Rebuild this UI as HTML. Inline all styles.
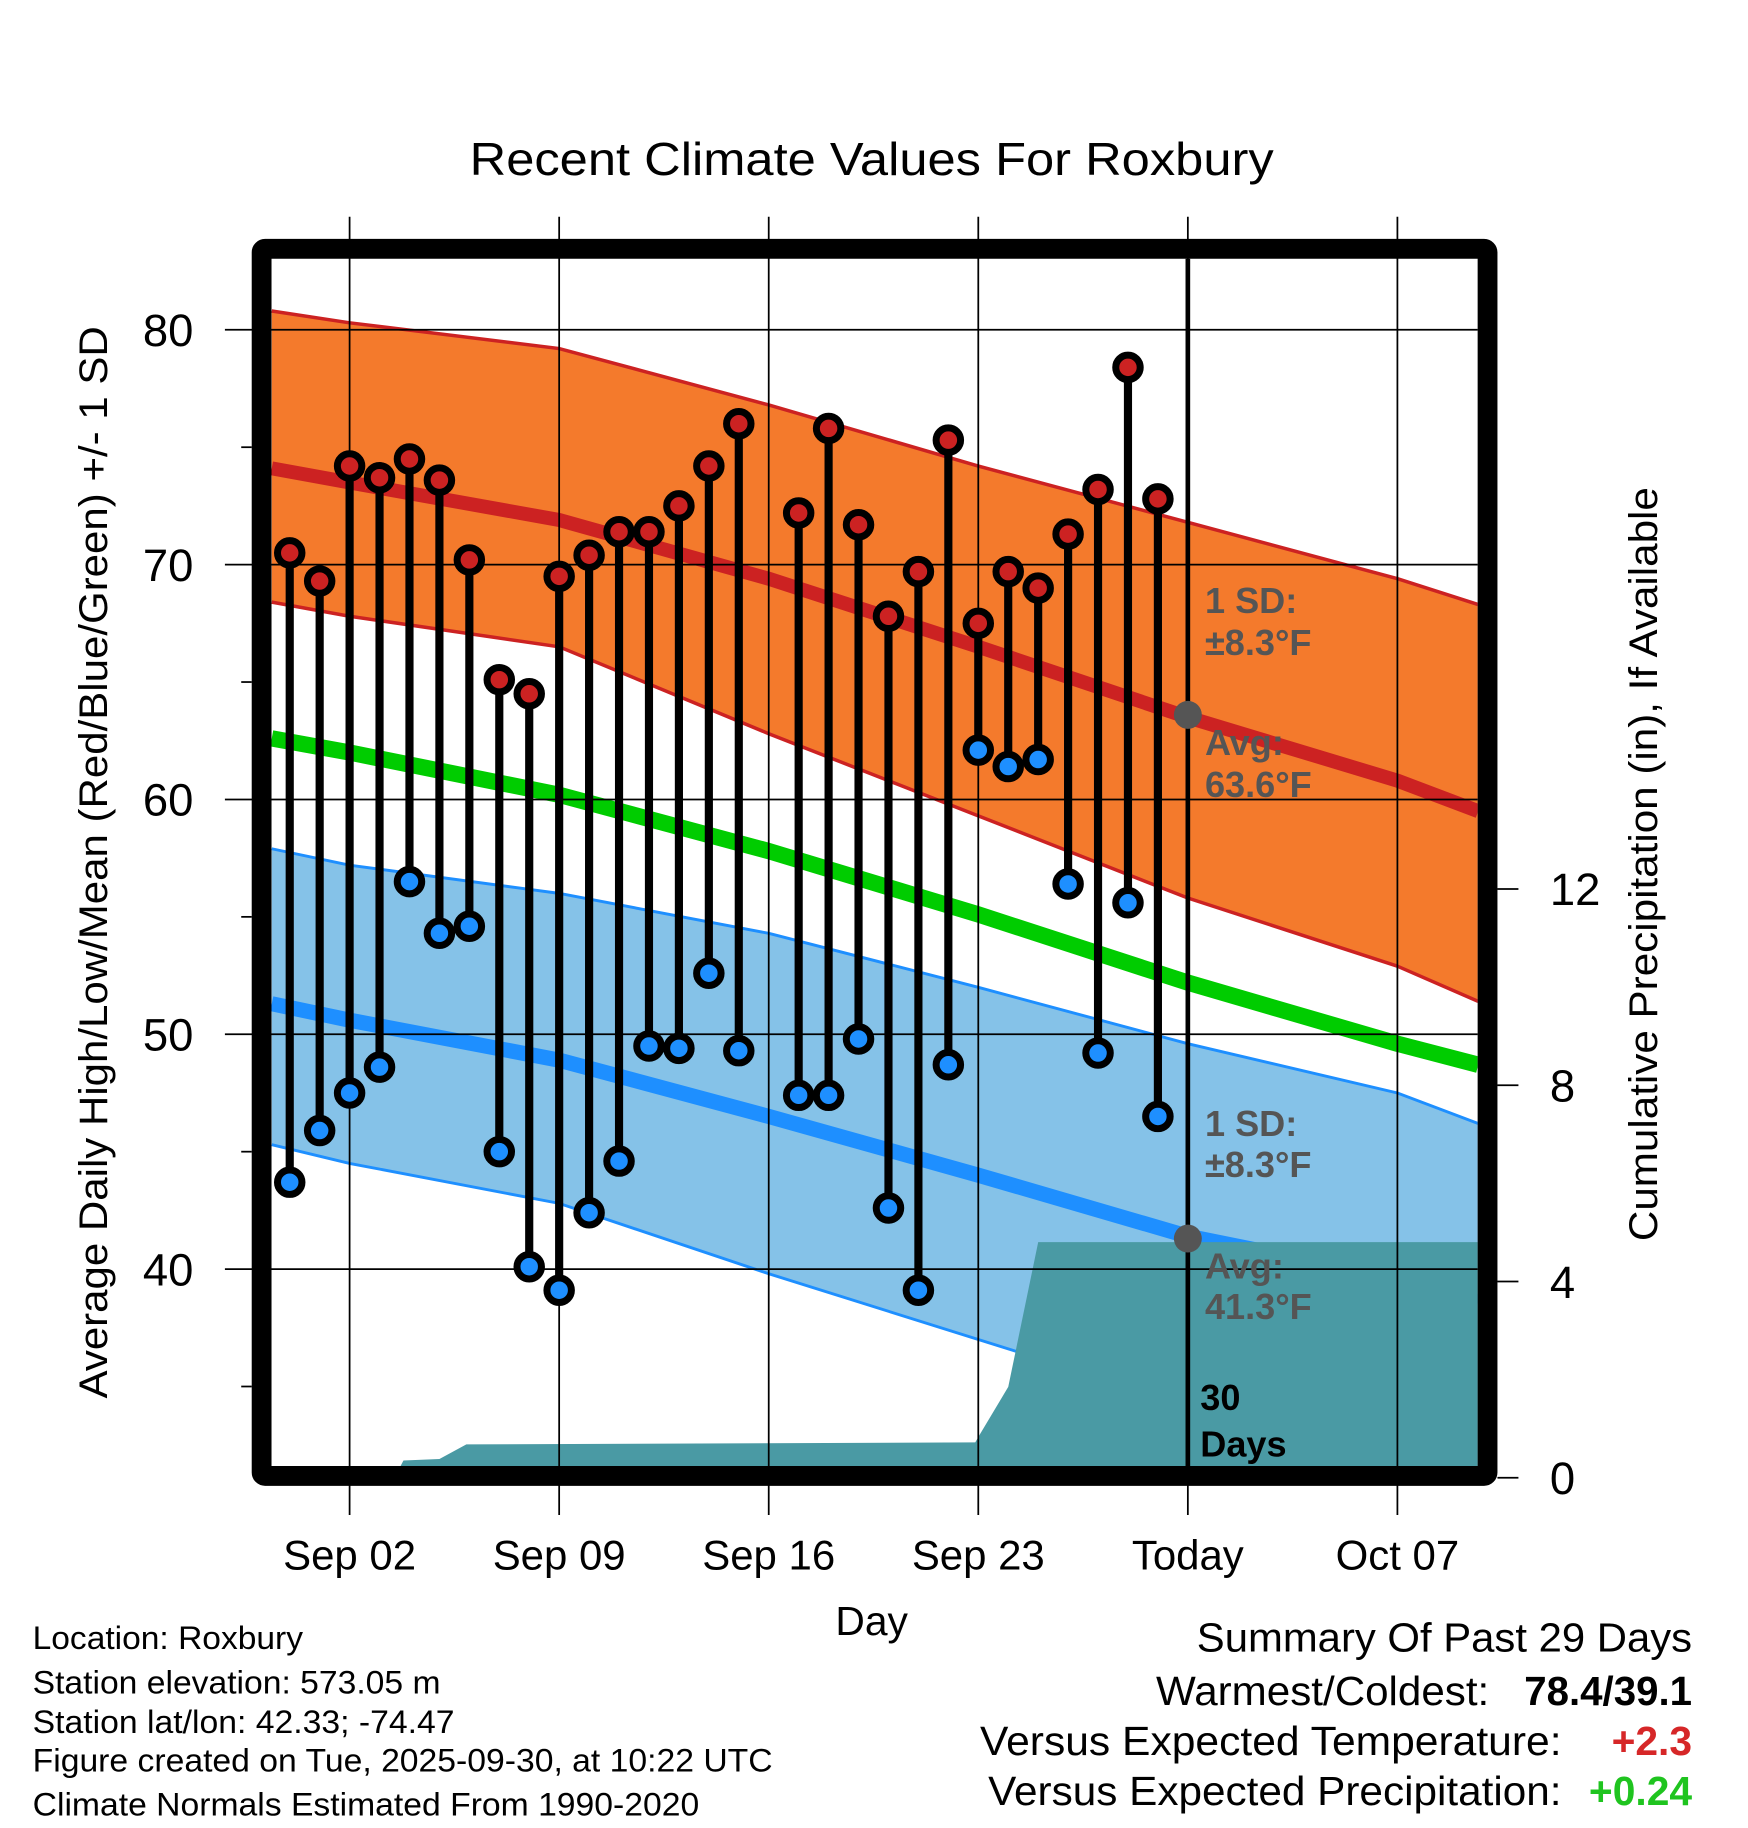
<!DOCTYPE html>
<html><head><meta charset="utf-8"><style>
html,body{margin:0;padding:0;background:#fff;}
svg{display:block;font-family:"Liberation Sans",sans-serif;}
</style></head><body>
<svg id="chart" width="1748" height="1828" viewBox="0 0 1500 1568.6" preserveAspectRatio="none">
<text x="403" y="150" font-size="40" textLength="690" lengthAdjust="spacingAndGlyphs">Recent Climate Values For Roxbury</text>
<g id="plot"></g>
<text transform="translate(92,1200) rotate(-90)" font-size="34" textLength="920" lengthAdjust="spacingAndGlyphs">Average Daily High/Low/Mean (Red/Blue/Green) +/- 1 SD</text>
<text transform="translate(1422,1065) rotate(-90)" font-size="34" textLength="647" lengthAdjust="spacingAndGlyphs">Cumulative Precipitation (in), If Available</text>
<text x="748" y="1403" font-size="35" text-anchor="middle">Day</text>
<g font-size="28">
<text x="28" y="1415" textLength="232" lengthAdjust="spacingAndGlyphs">Location: Roxbury</text>
<text x="28" y="1453" textLength="350" lengthAdjust="spacingAndGlyphs">Station elevation: 573.05 m</text>
<text x="28" y="1487" textLength="362" lengthAdjust="spacingAndGlyphs">Station lat/lon: 42.33; -74.47</text>
<text x="28" y="1520" textLength="635" lengthAdjust="spacingAndGlyphs">Figure created on Tue, 2025-09-30, at 10:22 UTC</text>
<text x="28" y="1558" textLength="572" lengthAdjust="spacingAndGlyphs">Climate Normals Estimated From 1990-2020</text>
</g>
<g font-size="35">
<text x="1027" y="1417" textLength="425" lengthAdjust="spacingAndGlyphs">Summary Of Past 29 Days</text>
<text x="992" y="1463" textLength="286" lengthAdjust="spacingAndGlyphs">Warmest/Coldest:</text>
<text x="1308" y="1463" textLength="144" lengthAdjust="spacingAndGlyphs" font-weight="bold">78.4/39.1</text>
<text x="841" y="1506" textLength="499" lengthAdjust="spacingAndGlyphs">Versus Expected Temperature:</text>
<text x="1452" y="1506" text-anchor="end" font-weight="bold" fill="#d62728">+2.3</text>
<text x="848" y="1549" textLength="492" lengthAdjust="spacingAndGlyphs">Versus Expected Precipitation:</text>
<text x="1452" y="1549" text-anchor="end" font-weight="bold" fill="#1fc41f">+0.24</text>
</g>
</svg>
<script>
// days: Sep 1 = 0
const obsDays = [-1,0,1,2,3,4,5,6,7,8,9,10,11,12,13,14,16,17,18,19,20,21,22,23,24,25,26,27,28];
const highs = [70.5,69.3,74.2,73.7,74.5,73.6,70.2,65.1,64.5,69.5,70.4,71.4,71.4,72.5,74.2,76.0,72.2,75.8,71.7,67.8,69.7,75.3,67.5,69.7,69.0,71.3,73.2,78.4,72.8];
const lows = [43.7,45.9,47.5,48.6,56.5,54.3,54.6,45.0,40.1,39.1,42.4,44.6,49.5,49.4,52.6,49.3,47.4,47.4,49.8,42.6,39.1,48.7,62.1,61.4,61.7,56.4,49.2,55.6,46.5];
const normDays = [-1.6,1,8,15,22,29,36,38.7];
const highMean = [74.1,73.5,71.9,69.4,66.5,63.5,60.8,59.5];
const highUpper = [80.8,80.3,79.2,76.8,74.2,71.8,69.4,68.3];
const highLower = [68.4,67.8,66.5,62.8,59.3,55.8,52.9,51.4];
const meanLine = [62.6,62.0,60.2,57.8,55.1,52.2,49.6,48.7];
const lowMean = [51.3,50.6,48.9,46.5,44.0,41.4,39.6,38.6];
const lowUpper = [57.9,57.2,56.0,54.3,52.0,49.6,47.5,46.2];
const lowLower = [45.3,44.5,42.8,39.8,37.0,34.2,31.5,30.5];
const precipDays = [-1.6,2.5,2.8,4,4.9,21.9,22,23,24,38.7];
const precipVals = [0,0,0.35,0.38,0.68,0.72,0.83,1.85,4.8,4.8];
const yTicks = [80,70,60,50,40];
const pTicks = [0,4,8,12];
const xTickDays = [1,8,15,22,29,36];
const xTickLabels = ["Sep 02","Sep 09","Sep 16","Sep 23","Today","Oct 07"];

const NS="http://www.w3.org/2000/svg";
const X=d=>300+(d-1)*25.69;
const Y=v=>283+(80-v)*20.15;
const P=p=>1268-p*42.1;
const L=233,R=1268,T=222,B=1260;
const g=document.getElementById('plot');
function mk(tag,attrs,parent){const e=document.createElementNS(NS,tag);for(const k in attrs)e.setAttribute(k,attrs[k]);(parent||g).appendChild(e);return e;}
function line(xs,ys){return xs.map((x,i)=>X(x).toFixed(1)+','+Y(ys[i]).toFixed(1)).join(' ');}
function band(up,lo){return line(normDays,up)+' '+line(normDays.slice().reverse(),lo.slice().reverse());}

const defs=mk('defs',{});
const cp=mk('clipPath',{id:'clip'},defs);
mk('rect',{x:L,y:T,width:R-L,height:B-T},cp);
const inner=mk('g',{'clip-path':'url(#clip)'});

let e;
e=mk('polygon',{points:band(highUpper,highLower),fill:'#f47a2c'},inner);

e=mk('polyline',{points:line(normDays,highUpper),fill:'none',stroke:'#cc2222','stroke-width':3},inner);

e=mk('polyline',{points:line(normDays,highLower),fill:'none',stroke:'#cc2222','stroke-width':3},inner);

e=mk('polygon',{points:band(lowUpper,lowLower),fill:'#85c2e8'},inner);

e=mk('polyline',{points:line(normDays,lowUpper),fill:'none',stroke:'#1e8fff','stroke-width':2.5},inner);

e=mk('polyline',{points:line(normDays,lowLower),fill:'none',stroke:'#1e8fff','stroke-width':2.5},inner);

e=mk('polyline',{points:line(normDays,highMean),fill:'none',stroke:'#cc2222','stroke-width':12},inner);

e=mk('polyline',{points:line(normDays,meanLine),fill:'none',stroke:'#00cc00','stroke-width':14},inner);

e=mk('polyline',{points:line(normDays,lowMean),fill:'none',stroke:'#1e8fff','stroke-width':13},inner);

let pp=precipDays.map((d,i)=>X(d).toFixed(1)+','+P(precipVals[i]).toFixed(1)).join(' ');
pp+=' '+X(38.7)+','+P(-1)+' '+X(-1.6)+','+P(-1);
e=mk('polygon',{points:pp,fill:'#4a9aa4'},inner);


yTicks.forEach(v=>{
  e=mk('line',{x1:193,x2:R,y1:Y(v),y2:Y(v),stroke:'#000','stroke-width':1.5});
  
  e=mk('text',{x:166,y:Y(v)+14,'font-size':39,'text-anchor':'end'});e.textContent=v;
  
  e=mk('line',{x1:207,x2:216,y1:Y(v-5),y2:Y(v-5),stroke:'#000','stroke-width':1.5});
  
});
pTicks.forEach(p=>{
  e=mk('line',{x1:1285,x2:1303,y1:P(p),y2:P(p),stroke:'#000','stroke-width':1.5});
  
  e=mk('text',{x:1330,y:P(p)+14,'font-size':39});e.textContent=p;
  
});
xTickDays.forEach((d,i)=>{
  e=mk('line',{x1:X(d),x2:X(d),y1:186,y2:1300,stroke:'#000','stroke-width':1.5});
  
  e=mk('text',{x:X(d),y:1347,'font-size':36,'text-anchor':'middle'});e.textContent=xTickLabels[i];
  
});
e=mk('line',{x1:X(29),x2:X(29),y1:T,y2:B,stroke:'#000','stroke-width':4});

e=mk('circle',{cx:X(29),cy:Y(63.6),r:12,fill:'#555'});

e=mk('circle',{cx:X(29),cy:Y(41.3),r:12,fill:'#555'});

const ann=[["1 SD:",526],["±8.3°F",562],["Avg:",648],["63.6°F",684],["1 SD:",975],["±8.3°F",1010],["Avg:",1097],["41.3°F",1132]];
ann.forEach(a=>{e=mk('text',{x:1034,y:a[1],'font-size':31,'font-weight':'bold',fill:'#555'});e.textContent=a[0];
 });
[["30",1210],["Days",1250]].forEach(a=>{e=mk('text',{x:1030,y:a[1],'font-size':31,'font-weight':'bold'});e.textContent=a[0];
 });
obsDays.forEach((d,i)=>{
  e=mk('line',{x1:X(d),x2:X(d),y1:Y(highs[i]),y2:Y(lows[i]),stroke:'#000','stroke-width':7});
  
  e=mk('circle',{cx:X(d),cy:Y(highs[i]),r:10.5,fill:'#cc2222',stroke:'#000','stroke-width':6});
  
  e=mk('circle',{cx:X(d),cy:Y(lows[i]),r:10.5,fill:'#1e8fff',stroke:'#000','stroke-width':6});
  
});
e=mk('rect',{x:224.5,y:213.5,width:1052,height:1053,fill:'none',stroke:'#000','stroke-width':17,rx:3});

</script>
</body></html>
